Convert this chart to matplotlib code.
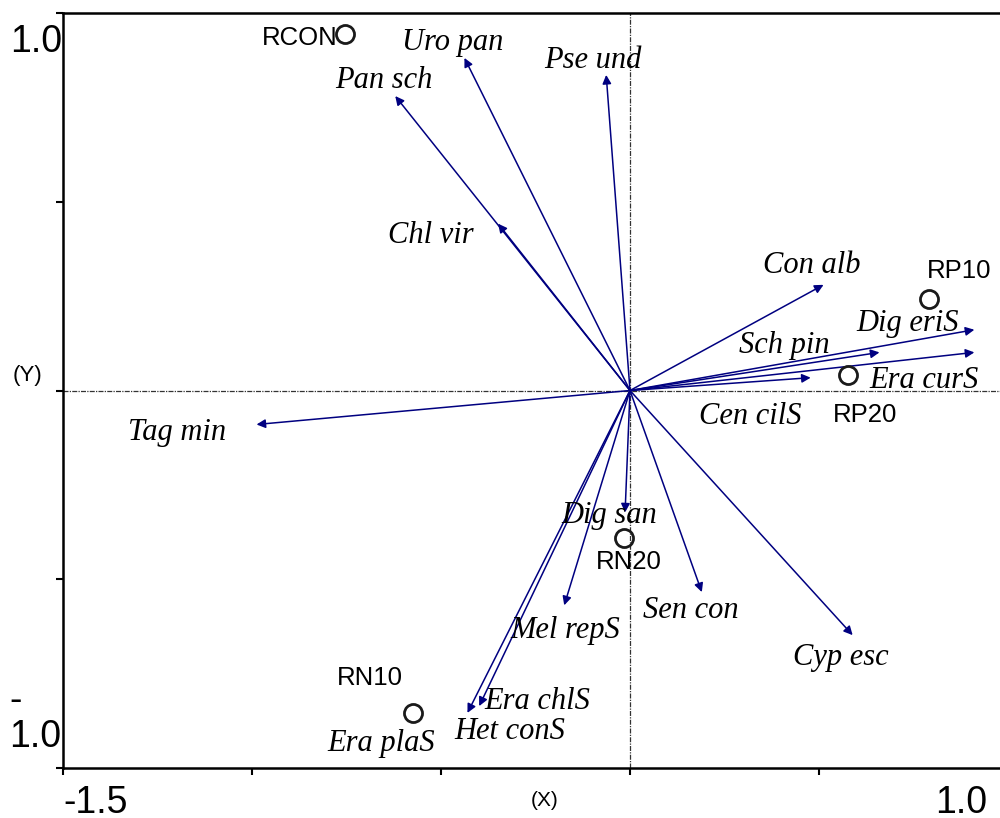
import matplotlib
matplotlib.use('Agg')
import matplotlib.pyplot as plt
import numpy as np

# species arrows (tips) and their label positions
species = ['Pan sch', 'Uro pan', 'Pse und', 'Chl vir', 'Con alb', 'Sch pin',
           'Dig eriS', 'Era curS', 'Cen cilS', 'Tag min', 'Dig san', 'Sen con',
           'Cyp esc', 'Mel repS', 'Era chlS', 'Het conS']
sp_x = [-0.621, -0.438, -0.063, -0.349, 0.512, 0.660,
        0.911, 0.911, 0.478, -0.988, -0.013, 0.190,
        0.589, -0.174, -0.399, -0.430]
sp_y = [0.780, 0.881, 0.836, 0.442, 0.280, 0.101,
        0.161, 0.101, 0.034, -0.090, -0.323, -0.534,
        -0.648, -0.569, -0.836, -0.854]

label_names = species + ['Era plaS']
label_x = [-0.652, -0.470, -0.098, -0.528, 0.481, 0.409,
           0.734, 0.779, 0.317, -1.199, -0.055, 0.161,
           0.557, -0.172, -0.246, -0.317, -0.658]
label_y = [0.820, 0.921, 0.873, 0.410, 0.331, 0.119,
           0.177, 0.026, -0.069, -0.111, -0.331, -0.582,
           -0.706, -0.635, -0.825, -0.902, -0.934]

# sites
sites = ['RCON', 'RP10', 'RP20', 'RN20', 'RN10']
site_x = [-0.753, 0.790, 0.576, -0.016, -0.573]
site_y = [0.944, 0.243, 0.040, -0.392, -0.854]
site_lx = [-0.874, 0.871, 0.623, -0.003, -0.687]
site_ly = [0.934, 0.317, -0.066, -0.455, -0.762]

fig = plt.figure(figsize=(10, 8.18), dpi=100)
ax = fig.add_axes([0.063, 0.0611, 0.945, 0.923])
ax.set_xlim(-1.5, 1.0)
ax.set_ylim(-1.0, 1.0)

# centre lines
ax.axhline(0, color='#333333', lw=0.9, ls=(0, (4, 1, 1, 1)), zorder=1)
ax.axvline(0, color='#333333', lw=0.9, ls=(0, (4, 1, 1, 1)), zorder=1)

for x, y in zip(sp_x, sp_y):
    ax.annotate('', xy=(x, y), xytext=(0, 0),
                arrowprops=dict(arrowstyle='-|>', color='#000080', lw=1.1,
                                mutation_scale=13, shrinkA=0, shrinkB=0),
                zorder=3)

for name, x, y in zip(label_names, label_x, label_y):
    ax.text(x, y, name, ha='center', va='center', fontsize=22,
            family='Liberation Serif', style='italic', color='black', zorder=4)

ax.plot(site_x, site_y, 'o', ms=13, mfc='none', mec='#1a1a1a', mew=2, zorder=5)
for name, x, y in zip(sites, site_lx, site_ly):
    ax.text(x, y, name, ha='center', va='center', fontsize=18.5,
            family='Liberation Sans', color='black', zorder=4)

ax.spines['right'].set_visible(False)
for s in ['left', 'bottom', 'top']:
    ax.spines[s].set_linewidth(1.8)
ax.set_xticks([-1.5, -1.0, -0.5, 0.0, 0.5, 1.0])
ax.set_yticks([-1.0, -0.5, 0.0, 0.5, 1.0])
ax.tick_params(direction='out', length=5, width=1.5, labelbottom=False, labelleft=False)

# tick labels only at the ends
tk = dict(family='Liberation Sans', fontsize=27, color='black')
fig.text(0.062, 1 - 42 / 818, '1.0', ha='right', va='center', **tk)
fig.text(0.009, 1 - 719 / 818, '-\n1.0', ha='left', va='center', multialignment='left',
         linespacing=1.0, **tk)
fig.text(0.063, 1 - 803 / 818, '-1.5', ha='left', va='center', **tk)
fig.text(0.961, 1 - 803 / 818, '1.0', ha='center', va='center', **tk)
fig.text(0.545, 1 - 801 / 818, '(X)', ha='center', va='center', family='Liberation Sans', fontsize=15)
fig.text(0.028, 1 - 375 / 818, '(Y)', ha='center', va='center', family='Liberation Sans', fontsize=16)

fig.savefig('out.png', dpi=100)
